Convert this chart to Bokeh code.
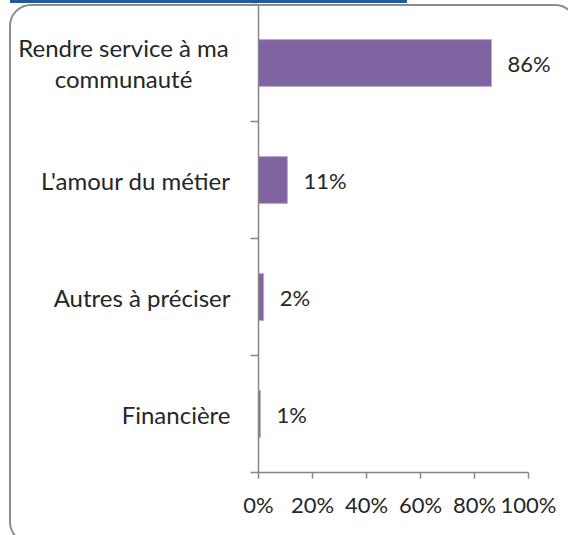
from bokeh.plotting import figure
from bokeh.layouts import row
from bokeh.models import (ColumnDataSource, Range1d, FixedTicker, PrintfTickFormatter,
                          LabelSet, GlobalInlineStyleSheet)
from bokeh.core.properties import value
from bokeh.embed import file_html
from bokeh.resources import INLINE

categories = ["Rendre service à ma\ncommunauté", "L'amour du métier", "Autres à préciser", "Financière"]
values = [86.3, 10.7, 1.9, 0.7]
x_ticks = [0, 20, 40, 60, 80, 100]
value_labels = [f"{round(v)}%" for v in values]

W, H = 568, 535
LEFT_W = 238          # width of the category-label panel
FONT = "Lato"
FS = "22px"
CFS = "24px"
TXT = "#262626"
AX = "#868686"
BAR = "#8064A2"
TOP, BOTTOM = 4, 63   # frame margins shared by both panels

n = len(categories)
ypos = [i + 0.5 for i in range(n)]
yr = Range1d(n, 0)
src = ColumnDataSource(dict(y=ypos, v=values, lab=value_labels))

# ---- category label panel (left) ----
lx, ly, lt, la, loff = [], [], [], [], []
for y, c in zip(ypos, categories):
    lines = c.split("\n")
    k = len(lines)
    for j, line in enumerate(lines):
        lt.append(line)
        ly.append(y)
        loff.append((j - (k - 1) / 2) * 31)
        if k > 1:
            lx.append(123)
            la.append("center")
        else:
            lx.append(230)
            la.append("right")
lab_src = ColumnDataSource(dict(x=lx, y=ly, t=lt, a=la, off=loff))

pl = figure(width=LEFT_W, height=H, output_backend="svg", toolbar_location=None,
            x_range=Range1d(0, LEFT_W), y_range=yr,
            x_axis_location=None, y_axis_location=None,
            min_border_left=0, min_border_right=0, min_border_top=TOP, min_border_bottom=BOTTOM)
pl.outline_line_color = None
pl.xgrid.visible = False
pl.ygrid.visible = False
pl.border_fill_color = "white"
pl.text(x="x", y="y", text="t", text_align="a", y_offset="off", source=lab_src,
        text_baseline="middle", text_font=value(FONT), text_font_size=value(CFS),
        text_color=TXT)

# ---- bar chart panel ----
MAIN_W = W - LEFT_W
ML = 258 - LEFT_W
x_end = 100 * (566 - 258) / 270   # 0..100 % covers 270 px, frame to 566 px

p = figure(width=MAIN_W, height=H, output_backend="svg", toolbar_location=None,
           x_range=Range1d(0, x_end), y_range=yr,
           min_border_left=ML, min_border_right=2, min_border_top=TOP, min_border_bottom=BOTTOM)
p.outline_line_color = None
p.xgrid.visible = False
p.ygrid.visible = False
p.border_fill_color = "white"

p.hbar(y="y", left=0, right="v", height=0.4, source=src,
       fill_color=BAR, line_color="#B9ABCD", line_width=1)

xa = p.xaxis[0]
xa.ticker = FixedTicker(ticks=x_ticks)
xa.bounds = (x_ticks[0], x_ticks[-1])
xa.formatter = PrintfTickFormatter(format="%d%%")
xa.axis_line_color = AX
xa.axis_line_width = 1.5
xa.major_tick_line_color = AX
xa.major_tick_line_width = 1.5
xa.major_tick_out = 6
xa.major_tick_in = 0
xa.minor_tick_line_color = None
xa.major_label_text_font = FONT
xa.major_label_text_font_size = FS
xa.major_label_text_color = TXT
xa.major_label_standoff = 12

ya = p.yaxis[0]
ya.ticker = FixedTicker(ticks=list(range(n + 1)))
ya.major_label_overrides = {i: "" for i in range(n + 1)}
ya.major_label_standoff = 0
ya.axis_line_color = AX
ya.axis_line_width = 1.5
ya.major_tick_line_color = AX
ya.major_tick_line_width = 1.5
ya.major_tick_out = 8
ya.major_tick_in = 0
ya.minor_tick_line_color = None

p.add_layout(LabelSet(x="v", y="y", text="lab", source=src, x_offset=16,
                      text_align="left", text_baseline="middle",
                      text_font=value(FONT), text_font_size=value(FS), text_color=TXT))

css = """
html, body { margin: 0 !important; padding: 0; overflow: hidden; background: white; }
body::after { content: ""; position: fixed; left: 9px; top: 4px; width: 568px; height: 540px;
  border: 2px solid #8C8C8C; border-radius: 22px; box-sizing: border-box;
  pointer-events: none; z-index: 10; }
body::before { content: ""; position: fixed; left: 10px; top: 0px; width: 397px; height: 3px;
  background: #1F5A9A; z-index: 11; }
"""
p.stylesheets = [GlobalInlineStyleSheet(css=css)]

layout = row(pl, p, spacing=0)
open("out.html", "w").write(file_html(layout, INLINE))
